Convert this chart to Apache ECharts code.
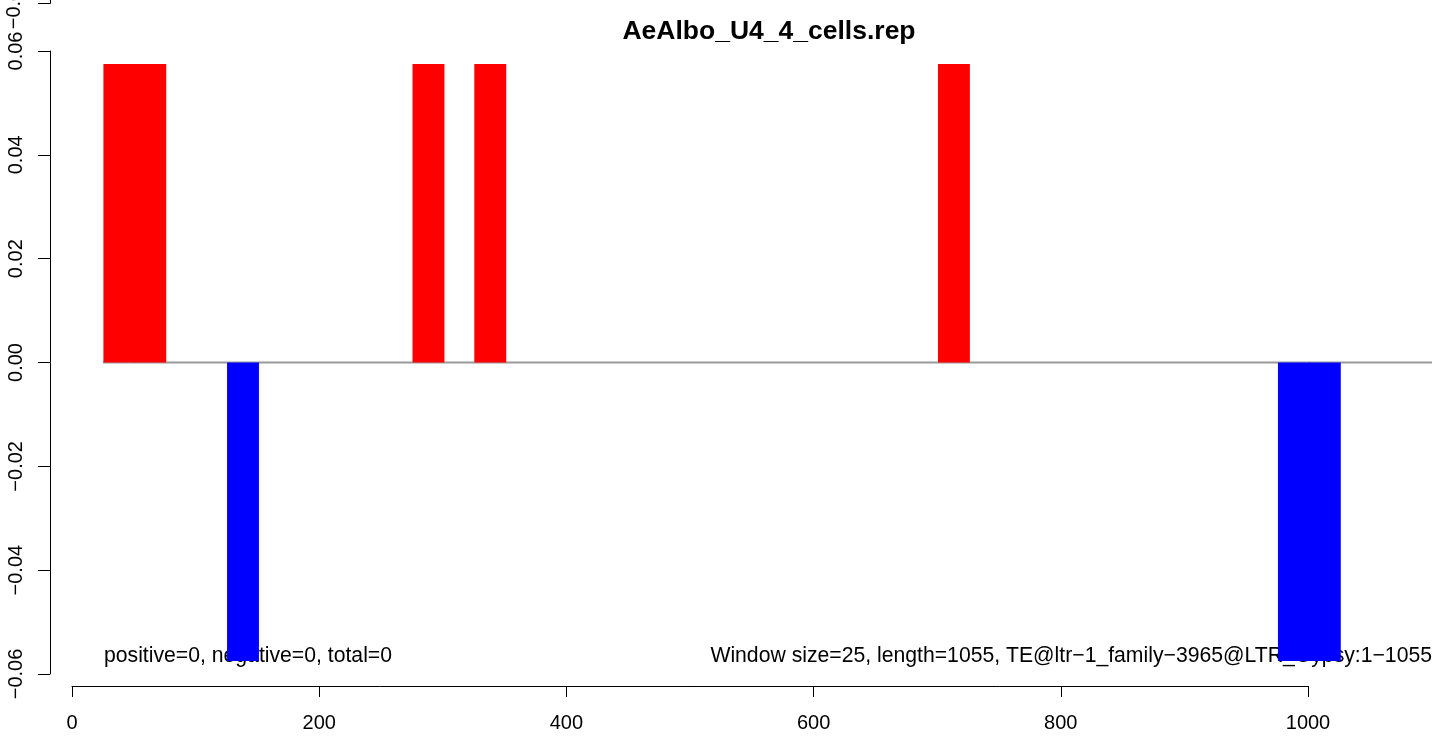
<!DOCTYPE html>
<html>
<head>
<meta charset="utf-8">
<script src="https://cdn.jsdelivr.net/npm/echarts@6/dist/echarts.min.js"></script>
<style>
html,body{margin:0;padding:0;background:#fff;}
#chart{width:1439px;height:736px;}
</style>
</head>
<body>
<div id="chart"></div>
<script>
// ---- data ----
const windowStart = [25, 50, 125, 275, 325, 700, 975, 1000];
const windowSize = 25;
const windowValue = [0.0575, 0.0575, -0.0575, 0.0575, 0.0575, 0.0575, -0.0575, -0.0575];
const baselineX = [25, 1100];
const xTicks = [0, 200, 400, 600, 800, 1000];
const yTicks = [-0.06, -0.04, -0.02, 0.00, 0.02, 0.04, 0.06];
const titleText = 'AeAlbo_U4_4_cells.rep';
const leftNote = 'positive=0, negative=0, total=0';
const rightNote = 'Window size=25, length=1055, TE@ltr\u22121_family\u22123965@LTR_Gypsy:1\u22121055';

const FONT = '"Liberation Sans", Arial, Helvetica, sans-serif';
const fmtY = v => (v < 0 ? '\u2212' : '') + Math.abs(v).toFixed(2);
const fmtX = v => String(Math.round(v));

const barData = windowStart.map((s, i) => [s, s + windowSize, windowValue[i]]);

const chart = echarts.init(document.getElementById('chart'), null, {renderer: 'canvas'});
chart.setOption({
  animation: false,
  backgroundColor: '#ffffff',
  title: {
    text: titleText,
    left: 764,
    top: 13,
    textAlign: 'center',
    textStyle: {fontFamily: FONT, fontWeight: 'bold', fontSize: 26.5, color: '#000'}
  },
  grid: [
    {left: 72, right: 7, top: 51, bottom: 62},
    {left: 72, width: 1236, top: 51, bottom: 62}
  ],
  xAxis: [
    {gridIndex: 0, type: 'value', min: 0, max: 1100, show: false},
    {
      gridIndex: 1, type: 'value', min: xTicks[0], max: xTicks[xTicks.length - 1], interval: 200,
      position: 'bottom', offset: 12,
      axisLine: {show: true, onZero: false, lineStyle: {color: '#000', width: 1}},
      axisTick: {show: true, length: 11, inside: false, lineStyle: {color: '#000', width: 1}},
      axisLabel: {show: true, fontFamily: FONT, fontSize: 20, color: '#000', margin: 27, formatter: fmtX},
      splitLine: {show: false}
    }
  ],
  yAxis: [
    {
      gridIndex: 0, type: 'value', min: yTicks[0], max: yTicks[yTicks.length - 1], interval: 0.02,
      position: 'left', offset: 22,
      axisLine: {show: true, onZero: false, lineStyle: {color: '#000', width: 1}},
      axisTick: {show: true, length: 12, inside: false, lineStyle: {color: '#000', width: 1}},
      axisLabel: {show: true, rotate: 90, fontFamily: FONT, fontSize: 20, color: '#000', margin: 24, formatter: fmtY},
      splitLine: {show: false}
    },
    {gridIndex: 1, type: 'value', min: -0.06, max: 0.06, show: false}
  ],
  graphic: [
    {type: 'line', shape: {x1: 50.5, y1: 0, x2: 50.5, y2: 3.5}, style: {stroke: '#000', lineWidth: 1}},
    {type: 'line', shape: {x1: 38, y1: 3.5, x2: 50.5, y2: 3.5}, style: {stroke: '#000', lineWidth: 1}},
    {type: 'text', x: 14, y: 4, rotation: Math.PI / 2,
     style: {text: '\u22120.06', font: '20px ' + FONT, fill: '#000', align: 'center', verticalAlign: 'middle'}},
    {type: 'text', x: 104, y: 656,
     style: {text: leftNote, font: '21.2px ' + FONT, fill: '#000', align: 'left', verticalAlign: 'middle'}},
    {type: 'text', x: 1432, y: 656,
     style: {text: rightNote, font: '21.2px ' + FONT, fill: '#000', align: 'right', verticalAlign: 'middle'}}
  ],
  series: [
    {
      type: 'custom',
      xAxisIndex: 0, yAxisIndex: 0,
      data: barData,
      encode: {x: [0, 1], y: 2},
      renderItem: function (params, api) {
        const p0 = api.coord([api.value(0), 0]);
        const p1 = api.coord([api.value(1), api.value(2)]);
        const v = api.value(2);
        const c = v >= 0 ? '#ff0000' : '#0000ff';
        return {
          type: 'rect',
          shape: {x: p0[0] + 0.5, y: Math.min(p0[1], p1[1]), width: p1[0] - p0[0] + 1, height: Math.abs(p1[1] - p0[1])},
          style: {fill: c}
        };
      },
      z: 2
    },
    {
      type: 'line',
      xAxisIndex: 0, yAxisIndex: 0,
      data: baselineX.map(x => [x, 0]),
      symbol: 'none',
      lineStyle: {color: '#9a9a9a', width: 2},
      z: 1
    }
  ]
});
</script>
</body>
</html>
